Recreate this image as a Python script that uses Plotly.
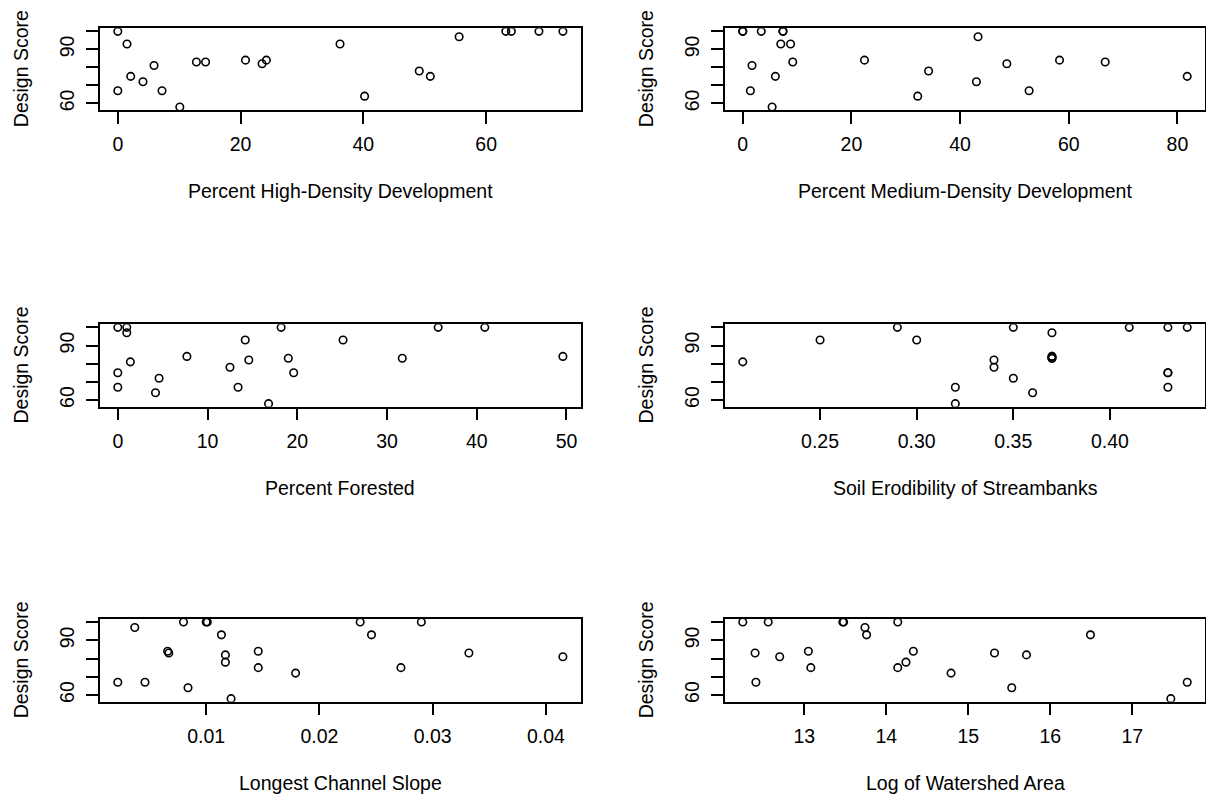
import plotly.graph_objects as go

# ---- data -------------------------------------------------------------
design_score = [100, 100, 100, 100, 100, 97, 93, 93, 84, 84, 83, 83,
                82, 81, 78, 75, 75, 72, 67, 67, 64, 58]

pct_high_density = [0.0, 63.2, 64.1, 68.6, 72.5, 55.6, 1.5, 36.2, 20.8, 24.2, 12.8,
                    14.3, 23.5, 5.9, 49.1, 2.1, 50.9, 4.1, 0.0, 7.2, 40.2, 10.1]
pct_medium_density = [0.0, 3.4, 7.4, 0.0, 7.4, 43.3, 7.0, 8.8, 22.4, 58.3, 9.2,
                      66.7, 48.6, 1.7, 34.2, 6.0, 81.8, 43.0, 1.4, 52.7, 32.2, 5.4]
pct_forested = [0.0, 1.0, 18.2, 35.7, 40.9, 1.0, 14.2, 25.1, 7.7, 49.6, 19.0,
                31.7, 14.6, 1.4, 12.5, 0.0, 19.6, 4.6, 0.0, 13.4, 4.2, 16.8]
soil_erodibility = [0.29, 0.35, 0.41, 0.43, 0.44, 0.37, 0.25, 0.30, 0.37, 0.37, 0.37,
                    0.37, 0.34, 0.21, 0.34, 0.43, 0.43, 0.35, 0.32, 0.43, 0.36, 0.32]
channel_slope = [0.0080, 0.0100, 0.0101, 0.0236, 0.0290, 0.0037, 0.01135, 0.0246,
                 0.0146, 0.0066, 0.0332, 0.0067, 0.0117, 0.0415, 0.0117, 0.0146,
                 0.0272, 0.0179, 0.0022, 0.0046, 0.0084, 0.0122]
log_watershed_area = [12.25, 12.56, 13.47, 13.48, 14.14, 13.74, 13.76, 16.49, 13.05,
                      14.33, 12.40, 15.32, 15.71, 12.70, 14.24, 13.08, 14.14, 14.79,
                      12.41, 17.67, 15.53, 17.47]

x_titles = ["Percent High-Density Development", "Percent Medium-Density Development",
            "Percent Forested", "Soil Erodibility of Streambanks",
            "Longest Channel Slope", "Log of Watershed Area"]
y_title = "Design Score"

x_tickvals = [[0, 20, 40, 60], [0, 20, 40, 60, 80], [0, 10, 20, 30, 40, 50],
              [0.25, 0.30, 0.35, 0.40], [0.01, 0.02, 0.03, 0.04], [13, 14, 15, 16, 17]]
x_ticktext = [["0", "20", "40", "60"], ["0", "20", "40", "60", "80"],
              ["0", "10", "20", "30", "40", "50"], ["0.25", "0.30", "0.35", "0.40"],
              ["0.01", "0.02", "0.03", "0.04"], ["13", "14", "15", "16", "17"]]
y_tickvals = [60, 70, 80, 90, 100]
y_ticktext = ["60", "", "", "90", ""]

predictors = [pct_high_density, pct_medium_density, pct_forested,
              soil_erodibility, channel_slope, log_watershed_area]

# ---- page geometry (pixels) ------------------------------------------
W, H = 1206, 799
col_px = [(100.0, 580.7), (725.0, 1205.0)]
row_px = [(28.3, 110.0), (324.3, 406.7), (619.0, 701.7)]
FONT = "Liberation Sans, Arial, sans-serif"
FS = 19.5


def padded_range(vals, frac=0.04):
    lo, hi = min(vals), max(vals)
    pad = (hi - lo) * frac
    return [lo - pad, hi + pad]


fig = go.Figure()
annotations = []
y_range = padded_range(design_score)

for i, xs in enumerate(predictors):
    r, c = divmod(i, 2)
    x0, x1 = col_px[c]
    top, bot = row_px[r]
    n = "" if i == 0 else str(i + 1)
    xa, ya = "x" + n, "y" + n

    fig.add_trace(go.Scatter(
        x=xs, y=design_score, mode="markers", xaxis=xa, yaxis=ya,
        marker=dict(symbol="circle-open", size=7.5, color="black",
                    line=dict(width=1.6, color="black")),
        showlegend=False, hoverinfo="x+y"))

    axis_common = dict(showgrid=False, zeroline=False, showline=True, mirror=True,
                       linecolor="black", linewidth=1.5, ticks="outside", ticklen=12,
                       tickwidth=1.5, tickcolor="black",
                       tickfont=dict(family=FONT, size=FS, color="black"))
    fig.layout["xaxis" + n] = dict(
        axis_common, domain=[x0 / W, x1 / W], anchor=ya,
        range=padded_range(xs), tickvals=x_tickvals[i], ticktext=x_ticktext[i],
        ticklabelstandoff=4)
    fig.layout["yaxis" + n] = dict(
        axis_common, domain=[1 - bot / H, 1 - top / H], anchor=xa,
        range=y_range, tickvals=y_tickvals, ticktext=y_ticktext,
        tickangle=-90, ticklabelstandoff=4)

    # axis titles
    annotations.append(dict(
        text=x_titles[i], xref="paper", yref="paper",
        x=(x0 + x1) / 2 / W, y=1 - (bot + 81) / H,
        xanchor="center", yanchor="middle", showarrow=False,
        font=dict(family=FONT, size=FS, color="black")))
    annotations.append(dict(
        text=y_title, xref="paper", yref="paper",
        x=(x0 - 79) / W, y=1 - (top + bot) / 2 / H, textangle=-90,
        xanchor="center", yanchor="middle", showarrow=False,
        font=dict(family=FONT, size=FS, color="black")))

fig.update_layout(width=W, height=H, margin=dict(l=0, r=0, t=0, b=0),
                  paper_bgcolor="white", plot_bgcolor="white",
                  annotations=annotations)

fig.write_html("out.html")
